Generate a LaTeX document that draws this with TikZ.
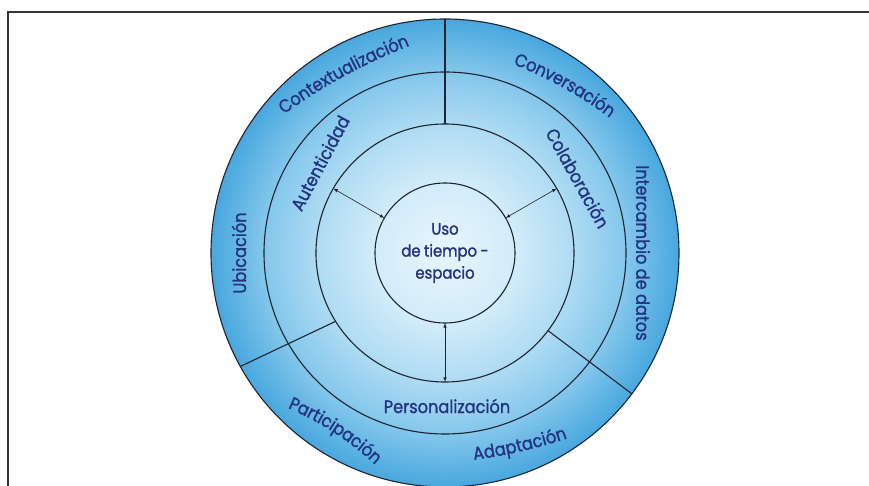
\documentclass[tikz,border=0pt]{standalone}
\usepackage{fontspec}
\setmainfont{Poppins}[FakeStretch=0.9,FakeBold=1.2]
\newfontfamily\corefamily{Poppins}[FakeStretch=0.9,FakeBold=1.4,WordSpace=0.85]
\usetikzlibrary{decorations.text}

\definecolor{labelblue}{HTML}{22337F}
\definecolor{ringline}{HTML}{1E2430}
\definecolor{framegray}{HTML}{333333}
\definecolor{glowA}{HTML}{E8F6FD}
\definecolor{glowB}{HTML}{D2ECF9}
\definecolor{glowC}{HTML}{AEDBF3}
\definecolor{glowD}{HTML}{84C7EC}
\definecolor{glowE}{HTML}{48A7DE}
\pgfdeclareradialshading{discglow}{\pgfpoint{0bp}{0bp}}{%
  color(0bp)=(glowA); color(7.5bp)=(glowB); color(13.8bp)=(glowC);
  color(19.3bp)=(glowD); color(25bp)=(glowE); color(50bp)=(glowE)}

\newcommand{\labelfont}{\fontsize{18}{20}\selectfont}
\newcommand{\corefont}{\corefamily\fontsize{16.5}{22}\selectfont}

\begin{document}
\begin{tikzpicture}
[x=1pt,y=1pt,
  ringdecorate/.style={circle,draw=ringline,line width=1.1pt,inner sep=0pt,outer sep=0pt},
  linedecorate/.style={draw=ringline,line width=1.1pt},
  arrowdecorate/.style={<->,>=latex,draw=ringline,line width=0.6pt},
  framedecorate/.style={draw=framegray,line width=2pt},
  labeldecorate/.style={text=labelblue,font=\labelfont,inner sep=0pt},
  curvedecorate/.style={decorate,decoration={text along path,
    text={|\labelfont|#1},text align=center,raise=-5.5pt,text color=labelblue}}]
%%
%% Macros
%% label bent round a pivot: pivot, mid angle, radius, half span (signed), text
\newcommand{\bentlabel}[5]{%
  \path[curvedecorate={#5}] (#1) ++(#2+#4:#3)
    arc[start angle=#2+#4,end angle=#2-#4,radius=#3];
}
\useasboundingbox (-445,-233) rectangle (424,253);
%%
%% Frame
\coordinate (frameTR) at (424,241);
\coordinate (frameTL) at (-437,241);
\coordinate (frameBL) at (-437,-233);
\draw[framedecorate] (frameTR) -- (frameTL) -- (frameBL);
%%
%% Rings
\node[ringdecorate,shade,shading=discglow,minimum size=468pt] (rim) at (0,0) {};
\node[ringdecorate,minimum size=362pt] (ring) at (0,0) {};
\node[ringdecorate,minimum size=258pt] (inner) at (0,0) {};
\node[ringdecorate,minimum size=140pt,text=labelblue,font=\corefont,align=center]
  (core) at (0,0) {Uso\\de tiempo -\\espacio};
%% dividers
\draw[linedecorate] (inner.90) -- (rim.90);
\draw[linedecorate] (inner.212) -- (rim.209);
\draw[linedecorate] (inner.323) -- (rim.323);
%% arrows
\foreach \ang in {30,150,270}
  \draw[arrowdecorate] (core.\ang) -- (inner.\ang);
%%
%% Straight labels
\foreach \name/\x/\y/\rot/\txt in {
  ubic/-206/0/90/Ubicación, inter/198/0/-90/Intercambio de datos,
  aut/-125/90/62/Autenticidad, colab/133/75/-61/Colaboración,
  pers/2/-153/0/Personalización}
{
  \node[labeldecorate,rotate=\rot] (\name) at (\x,\y) {\txt};
}
%% Bent labels
\bentlabel{160.3,-300.9}{118.6}{550}{12}{Contextualización}
\bentlabel{-72.9,-179.8}{61}{400}{12}{Conversación}
\bentlabel{-271.4,-426.6}{57}{300}{16}{Participación}
\bentlabel{-37.5,294.2}{-77}{500}{-9}{Adaptación}
\end{tikzpicture}
\end{document}
